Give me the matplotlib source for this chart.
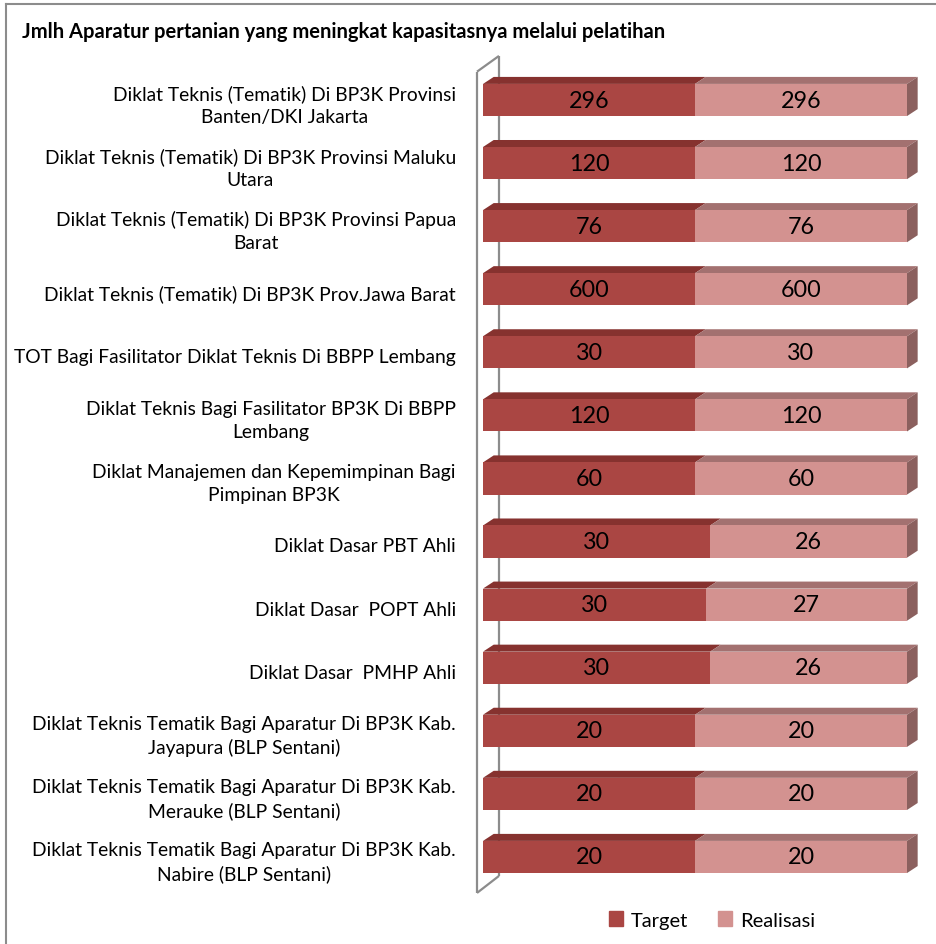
import matplotlib.pyplot as plt
from matplotlib.patches import Polygon, Patch
from matplotlib.lines import Line2D

plt.rcParams["font.family"] = ["Lato", "DejaVu Sans"]

labels = [
    "Diklat Teknis (Tematik) Di BP3K Provinsi\nBanten/DKI Jakarta",
    "Diklat Teknis (Tematik) Di BP3K Provinsi Maluku\nUtara",
    "Diklat Teknis (Tematik) Di BP3K Provinsi Papua\nBarat",
    "Diklat Teknis (Tematik) Di BP3K Prov.Jawa Barat",
    "TOT Bagi Fasilitator Diklat Teknis Di BBPP Lembang",
    "Diklat Teknis Bagi Fasilitator BP3K Di BBPP\nLembang",
    "Diklat Manajemen dan Kepemimpinan Bagi\nPimpinan BP3K",
    "Diklat Dasar PBT Ahli",
    "Diklat Dasar  POPT Ahli",
    "Diklat Dasar  PMHP Ahli",
    "Diklat Teknis Tematik Bagi Aparatur Di BP3K Kab.\nJayapura (BLP Sentani)",
    "Diklat Teknis Tematik Bagi Aparatur Di BP3K Kab.\nMerauke (BLP Sentani)",
    "Diklat Teknis Tematik Bagi Aparatur Di BP3K Kab.\nNabire (BLP Sentani)",
]
target = [296, 120, 76, 600, 30, 120, 60, 30, 30, 30, 20, 20, 20]
realisasi = [296, 120, 76, 600, 30, 120, 60, 26, 27, 26, 20, 20, 20]

c_target = "#aa4643"
c_target_top = "#86322f"
c_real = "#d39290"
c_real_top = "#a37170"
c_real_side = "#8b605e"

n = len(labels)
ys = list(range(n))
tot = [t + r for t, r in zip(target, realisasi)]
p_t = [t / s for t, s in zip(target, tot)]
p_r = [r / s for r, s in zip(realisasi, tot)]

fig = plt.figure(figsize=(9.37, 9.45), dpi=100)
ax = fig.add_axes([470 / 937, 45 / 945, 455 / 937, 850 / 945])
ax.set_xlim(-0.0307, 1.0425)
ax.set_ylim(12.666, -0.8085)
ax.axis("off")

h = 0.51
dx, dy = 0.0252, 0.111

# floor/wall of the 3d axis
wx0, wx1 = -0.0142, 0.0377
wt0, wb0 = -0.449, n - 0.43
wall = dict(color="#8c8c8c", lw=1.6, zorder=1, solid_capstyle="butt")
ax.add_line(Line2D([wx0, wx0], [wt0, wb0], **wall))
ax.add_line(Line2D([wx1, wx1], [wt0 - 0.25, wb0 - 0.27], **wall))
ax.add_line(Line2D([wx0, wx1], [wt0, wt0 - 0.25], **wall))
ax.add_line(Line2D([wx0, wx1], [wb0, wb0 - 0.27], **wall))

b1 = ax.barh(ys, p_t, height=h, color=c_target, zorder=3, label="Target")
b2 = ax.barh(ys, p_r, left=p_t, height=h, color=c_real, zorder=3, label="Realisasi")

for y, a, b in zip(ys, p_t, p_r):
    yt = y - h / 2
    yb = y + h / 2
    ax.add_patch(Polygon([(0, yt), (a, yt), (a + dx, yt - dy), (dx, yt - dy)],
                         closed=True, facecolor=c_target_top, edgecolor="none", zorder=2))
    ax.add_patch(Polygon([(a, yt), (a + b, yt), (a + b + dx, yt - dy), (a + dx, yt - dy)],
                         closed=True, facecolor=c_real_top, edgecolor="none", zorder=2))
    ax.add_patch(Polygon([(a + b, yt), (a + b, yb), (a + b + dx, yb - dy), (a + b + dx, yt - dy)],
                         closed=True, facecolor=c_real_side, edgecolor="none", zorder=2))

for y, a, b, t, r in zip(ys, p_t, p_r, target, realisasi):
    ax.text(a / 2, y, str(t), ha="center", va="center", fontsize=16.8, zorder=5)
    ax.text(a + b / 2, y, str(r), ha="center", va="center", fontsize=16.8, zorder=5)

for y, lab in zip(ys, labels):
    ax.text(-0.064, y + 0.07, lab, ha="right", va="center", multialignment="center",
            fontsize=13.9, linespacing=1.42)

fig.text(22 / 937, 1 - 32 / 945, "Jmlh Aparatur pertanian yang meningkat kapasitasnya melalui pelatihan",
         fontsize=14.5, fontweight="bold", va="center", ha="left")

fig.legend(handles=[Patch(color=c_target, label="Target"), Patch(color=c_real, label="Realisasi")],
           loc="center", bbox_to_anchor=(712 / 937, 24 / 945), ncol=2, frameon=False,
           fontsize=14.5, handlelength=0.7, handleheight=0.7, handletextpad=0.4, columnspacing=1.5)

# chart frame (only top and left edge visible in the crop)
fig.add_artist(Line2D([6 / 937, 1], [1 - 5 / 945, 1 - 5 / 945], color="#8c8c8c", lw=1.5,
                      transform=fig.transFigure))
fig.add_artist(Line2D([6 / 937, 6 / 937], [0, 1 - 5 / 945], color="#8c8c8c", lw=1.5,
                      transform=fig.transFigure))

fig.savefig("out.png", dpi=100)
